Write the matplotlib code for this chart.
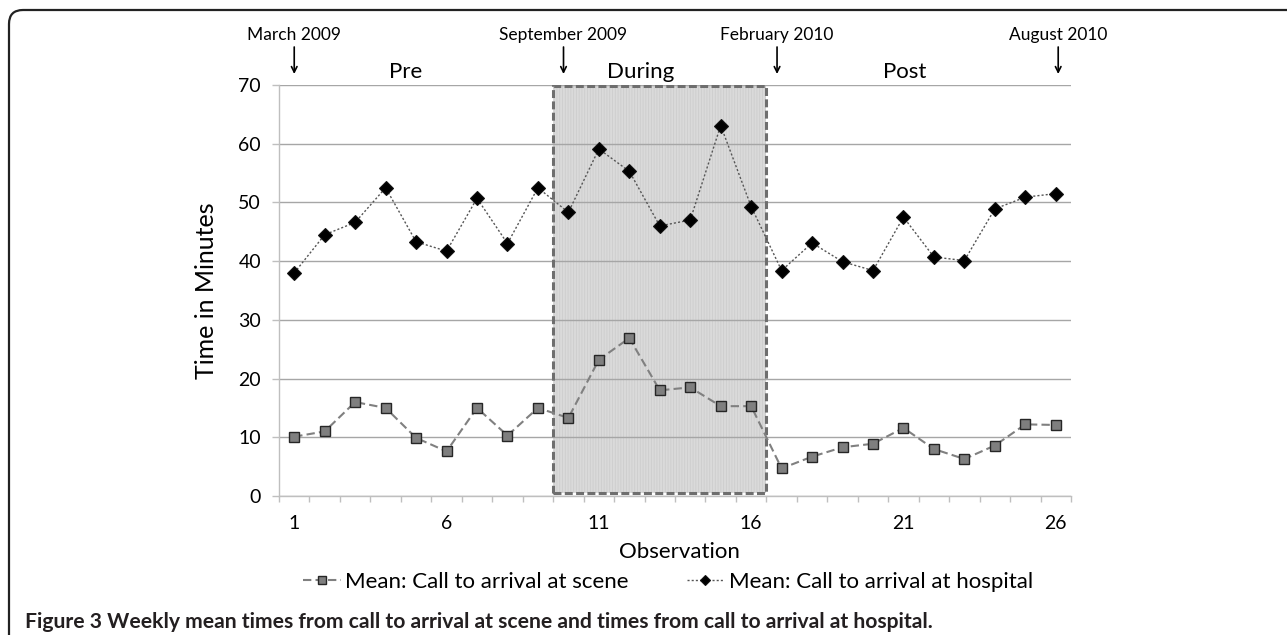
import matplotlib
matplotlib.use("Agg")
import matplotlib.pyplot as plt
from matplotlib.patches import Rectangle, FancyBboxPatch
from matplotlib.transforms import IdentityTransform, blended_transform_factory

plt.rcParams['font.family'] = ['Lato', 'DejaVu Sans']
plt.rcParams['hatch.linewidth'] = 0.6

# weekly observations
observation = list(range(1, 27))
scene = [10.1, 11.0, 16.0, 15.0, 9.9, 7.6, 15.0, 10.3, 15.0, 13.3,
         23.2, 26.9, 18.0, 18.5, 15.3, 15.3, 4.7, 6.7, 8.3, 8.9,
         11.6, 8.0, 6.3, 8.6, 12.2, 12.1]
hospital = [38.0, 44.5, 46.6, 52.5, 43.3, 41.7, 50.7, 43.0, 52.5, 48.3,
            59.1, 55.3, 46.0, 47.0, 63.1, 49.3, 38.4, 43.1, 39.9, 38.4,
            47.5, 40.7, 40.1, 48.9, 50.9, 51.5]

x_labels = [1, 6, 11, 16, 21, 26]
y_ticks = [0, 10, 20, 30, 40, 50, 60, 70]

# time markers above the chart
months = ['March 2009', 'September 2009', 'February 2010', 'August 2010']
month_pos = [1.0, 9.84, 16.85, 26.08]
phases = ['Pre', 'During', 'Post']
phase_pos = [4.65, 12.38, 21.03]
during_start, during_end = 9.5, 16.5

W, H = 1287, 635
fig = plt.figure(figsize=(W / 100, H / 100), dpi=100)
ax = fig.add_axes([279 / W, 1 - 496 / H, 792 / W, 411 / H])
top_tr = blended_transform_factory(ax.transData, fig.transFigure)

ax.set_xlim(0.5, 26.5)
ax.set_ylim(0, 70)

# shaded "during" period
ax.add_patch(Rectangle((during_start, 0.55), during_end - during_start, 69.3,
                       facecolor='#dadada', edgecolor='#cdcdcd', hatch='||||||',
                       lw=0, zorder=0.2))
ax.add_patch(Rectangle((during_start, 0.55), during_end - during_start, 69.3,
                       facecolor='none', edgecolor='#6e6e6e', lw=2.2,
                       linestyle=(0, (2.6, 1.1)), zorder=3))

ax.set_axisbelow(True)
ax.yaxis.grid(True, color='#a6a6a6', lw=1.0)
ax.set_yticks(y_ticks)
ax.set_yticklabels([str(v) for v in y_ticks], fontsize=14)
ax.tick_params(axis='y', length=5, width=1, color='#bfbfbf', pad=8)

ax.set_xticks([i + 0.5 for i in range(0, 27)])
ax.set_xticklabels([])
ax.set_xticks(x_labels, minor=True)
ax.set_xticklabels([str(v) for v in x_labels], minor=True, fontsize=14)
ax.tick_params(axis='x', which='major', length=4, width=1, color='#bfbfbf')
ax.tick_params(axis='x', which='minor', length=0, pad=14)

for s in ['top', 'right']:
    ax.spines[s].set_visible(False)
for s in ['left', 'bottom']:
    ax.spines[s].set_color('#bfbfbf')
    ax.spines[s].set_linewidth(1.0)

l1, = ax.plot(observation, scene, color='#808080', lw=1.5, linestyle=(0, (4, 2)),
              marker='s', markersize=7, markerfacecolor='#7f7f7f',
              markeredgecolor='#262626', markeredgewidth=1.0, zorder=4,
              label='Mean: Call to arrival at scene')
l2, = ax.plot(observation, hospital, color='#555555', lw=1.0, linestyle=(0, (1.5, 1.5)),
              marker='D', markersize=7, markerfacecolor='black',
              markeredgecolor='#111111', markeredgewidth=0.8, zorder=4,
              label='Mean: Call to arrival at hospital')

for name, xp in zip(months, month_pos):
    ax.annotate('', xy=(xp, 1 - 74 / H), xytext=(xp, 1 - 47 / H),
                xycoords=('data', 'figure fraction'),
                textcoords=('data', 'figure fraction'),
                arrowprops=dict(arrowstyle='->', color='black', lw=1.2,
                                shrinkA=0, shrinkB=0))
    ax.text(xp, 1 - 40 / H, name, transform=top_tr,
            ha='center', va='baseline', fontsize=12.5)

for name, xp in zip(phases, phase_pos):
    ax.text(xp, 1 - 78 / H, name, transform=top_tr,
            ha='center', va='baseline', fontsize=16)

fig.text(207 / W, 1 - 291 / H, 'Time in Minutes', rotation=90,
         ha='center', va='center', fontsize=18)
fig.text(679 / W, 1 - 552 / H, 'Observation', ha='center', va='center', fontsize=16)

fig.legend(handles=[l1, l2], loc='center', bbox_to_anchor=(668 / W, 1 - 582 / H),
           ncol=2, frameon=False, fontsize=16, handlelength=1.7,
           handletextpad=0.2, columnspacing=2.6, borderpad=0, markerscale=0.8)

fig.text(25 / W, 1 - 628 / H,
         'Figure 3 Weekly mean times from call to arrival at scene and times from call to arrival at hospital.',
         ha='left', va='baseline', fontsize=15.2, fontweight='bold', color='#231f20')

frame = FancyBboxPatch((9, -40), 1340, 40 + H - 10,
                       boxstyle='round,pad=0,rounding_size=14',
                       transform=IdentityTransform(), facecolor='none',
                       edgecolor='#222222', lw=1.6)
fig.patches.append(frame)

fig.savefig('out.png', dpi=100)
